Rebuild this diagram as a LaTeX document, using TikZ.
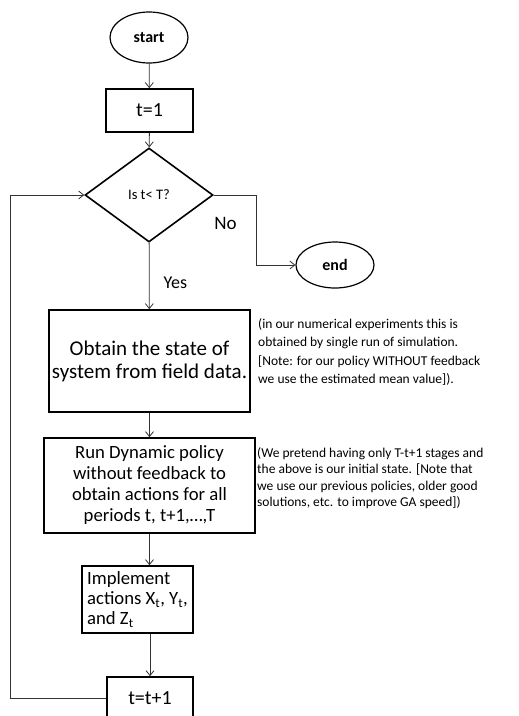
\documentclass[tikz,border=0pt]{standalone}
\usepackage{fontspec}
\setmainfont{Carlito}
\usetikzlibrary{shapes.geometric, arrows.meta, positioning}

\begin{document}
\begin{tikzpicture}[x=1pt, y=-1pt,
    flowbox/.style={draw, line width=1.6pt, inner sep=0pt, align=center},
    terminal/.style={draw, ellipse, line width=1.2pt, inner sep=0pt, font=\fontsize{16}{18}\selectfont\bfseries},
    decision/.style={draw, diamond, line width=1.6pt, inner sep=0pt, minimum width=128pt, minimum height=94pt, font=\fontsize{14.5}{16}\selectfont},
    note/.style={anchor=north west, align=left, inner sep=0pt},
    link/.style={draw=black!80, line width=0.8pt, -{Straight Barb[length=5pt,width=8pt]}}]
    \useasboundingbox (0,0) rectangle (519,716);
    \node[terminal, minimum width=78pt, minimum height=51pt] (start) at (149,37.5) {start};
    \node[flowbox, minimum width=87pt, minimum height=43pt, font=\fontsize{20}{22}\selectfont] (init) at (149.5,110.5) {t=1};
    \node[decision] (check) at (149,195) {Is t< T?};
    \node[terminal, minimum width=78pt, minimum height=46pt] (end) at (335,265) {end};
    \node[flowbox, minimum width=201pt, minimum height=102pt, font=\fontsize{21}{23}\selectfont] (state) at (149.5,361) {Obtain the state of\\system from field data.};
    \node[flowbox, minimum width=211pt, minimum height=95pt, font=\fontsize{18.7}{21}\selectfont] (policy) at (149.5,485.5) {Run Dynamic policy\\without feedback to\\obtain actions for all\\periods t, t+1,…,T};
    \node[flowbox, minimum width=111pt, minimum height=67pt, align=left, font=\fontsize{18.7}{20}\selectfont] (act) at (137.5,599.5) {Implement\\actions X\textsubscript{t}, Y\textsubscript{t},\\and Z\textsubscript{t}};
    \node[flowbox, minimum width=86pt, minimum height=42pt, font=\fontsize{20}{22}\selectfont] (next) at (150,698) {t=t+1};
    % side remarks
    \node[note, font=\fontsize{13.5}{18.5}\selectfont] (remark1) at (258,318) {(in our numerical experiments this is\\obtained by single run of simulation.\\{[}Note: for our policy WITHOUT feedback\\we use the estimated mean value{]}).};
    \node[note, font=\fontsize{13.5}{16.5}\selectfont] (remark2) at (257,447) {(We pretend having only T-t+1 stages and\\the above is our initial state. {[}Note that\\we use our previous policies, older good\\solutions, etc. to improve GA speed{]})};
    \coordinate (bend) at (256,265);
    \coordinate (back) at (10,698);
    \draw[link] (start) -- (init);
    \draw[link] (init) -- (check);
    \draw[link] (check) -- node[pos=0.6, anchor=west, xshift=14pt, inner sep=0pt, font=\fontsize{18}{20}\selectfont] {Yes} (state);
    \draw[link] (check.east) -| node[pos=0.7, anchor=east, xshift=-19pt, inner sep=0pt, font=\fontsize{19}{21}\selectfont] {No} (bend) |- (end.west);
    \draw[link] (state) -- (policy);
    \draw[link] (policy) -- (policy |- act.north);
    \draw[link] (next |- act.south) -- (next);
    \draw[link] (next.west) -- (back) |- (check.west);
\end{tikzpicture}
\end{document}
